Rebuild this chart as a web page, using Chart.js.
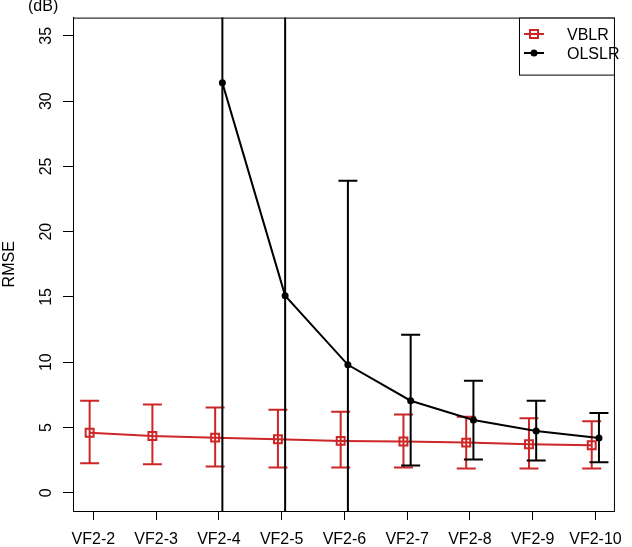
<!DOCTYPE html>
<html>
<head>
<meta charset="utf-8">
<script src="https://cdn.jsdelivr.net/npm/chart.js@4/dist/chart.umd.min.js"></script>
<style>
  html, body { margin: 0; padding: 0; background: #fff; }
  #wrap { width: 632px; height: 547px; position: relative; }
</style>
</head>
<body>
<div id="wrap"><canvas id="rmseChart"></canvas></div>
<script>
// values
const categories = ['VF2-2', 'VF2-3', 'VF2-4', 'VF2-5', 'VF2-6', 'VF2-7', 'VF2-8', 'VF2-9', 'VF2-10'];
const yTicks = [0, 5, 10, 15, 20, 25, 30, 35];

const vblrMean  = [4.6, 4.35, 4.22, 4.1, 3.97, 3.92, 3.84, 3.72, 3.64];
const vblrLow   = [2.26, 2.19, 2.01, 1.93, 1.93, 1.93, 1.86, 1.86, 1.86];
const vblrHigh  = [7.05, 6.75, 6.52, 6.36, 6.21, 6.0, 5.83, 5.7, 5.47];

const olslrMean = [null, null, 31.4, 15.1, 9.8, 7.05, 5.57, 4.73, 4.2];
const olslrLow  = [null, null, -13.6, -9.9, -4.3, 2.09, 2.54, 2.47, 2.34];
const olslrHigh = [null, null, 76.4, 40.1, 23.9, 12.1, 8.58, 7.05, 6.11];

const red = '#CD2626';
const font = "'Liberation Sans', Arial, sans-serif";

function toPoints(vals, shift) {
    const pts = [];
    vals.forEach((v, i) => { if (v !== null) pts.push({ x: i + 1 + shift, y: v }); });
    return pts;
}
function compact(vals) {
    return vals.filter(v => v !== null);
}

// vertical error bars with caps, clipped to the plot box
const errorBars = {
    id: 'errorBars',
    beforeDatasetDraw(chart, args) {
        const ds = chart.data.datasets[args.index];
        if (!ds.errLow) return;
        const { ctx, chartArea: a, scales: { x, y } } = chart;
        ctx.save();
        ctx.beginPath();
        ctx.rect(a.left, a.top, a.right - a.left, a.bottom - a.top);
        ctx.clip();
        ctx.strokeStyle = ds.borderColor;
        ctx.lineWidth = 2;
        ds.data.forEach((p, i) => {
            const px = x.getPixelForValue(p.x);
            const lo = y.getPixelForValue(ds.errLow[i]);
            const hi = y.getPixelForValue(ds.errHigh[i]);
            ctx.beginPath();
            ctx.moveTo(px, lo); ctx.lineTo(px, hi);
            ctx.moveTo(px - 9.5, lo); ctx.lineTo(px + 9.5, lo);
            ctx.moveTo(px - 9.5, hi); ctx.lineTo(px + 9.5, hi);
            ctx.stroke();
        });
        ctx.restore();
    }
};

// box, legend and unit label in R style
const frame = {
    id: 'frame',
    afterDraw(chart) {
        const { ctx, chartArea: a } = chart;
        ctx.save();
        ctx.strokeStyle = '#000';
        ctx.lineWidth = 1;
        ctx.strokeRect(a.left + 0.5, a.top + 0.5, a.right - a.left - 1, a.bottom - a.top);

        // legend
        const lx = 519.5, ly = a.top + 0.5, lw = a.right - 0.5 - lx, lh = 57;
        ctx.fillStyle = '#fff';
        ctx.fillRect(lx, ly, lw, lh);
        ctx.strokeRect(lx, ly, lw, lh);
        const rows = [
            { label: 'VBLR', color: red, y: 34, marker: 'square' },
            { label: 'OLSLR', color: '#000', y: 53, marker: 'dot' }
        ];
        rows.forEach(r => {
            ctx.strokeStyle = r.color;
            ctx.fillStyle = r.color;
            ctx.lineWidth = 2;
            ctx.beginPath();
            ctx.moveTo(524, r.y); ctx.lineTo(544, r.y);
            ctx.stroke();
            if (r.marker === 'square') {
                ctx.strokeRect(530, r.y - 4, 8, 8);
            } else {
                ctx.beginPath();
                ctx.arc(534, r.y, 3.5, 0, Math.PI * 2);
                ctx.fill();
            }
            ctx.fillStyle = '#000';
            ctx.font = '16px ' + font;
            ctx.textAlign = 'left';
            ctx.textBaseline = 'middle';
            ctx.fillText(r.label, 567, r.y + 2);
        });

        ctx.font = '16px ' + font;
        ctx.textAlign = 'left';
        ctx.textBaseline = 'middle';
        ctx.fillStyle = '#000';
        ctx.fillText('(dB)', 28, 7);
        ctx.restore();
    }
};

const ctx = document.getElementById('rmseChart').getContext('2d');
const rmseChart = new Chart(ctx, {
    type: 'line',
    data: {
        datasets: [{
            label: 'VBLR',
            data: toPoints(vblrMean, -0.06),
            errLow: vblrLow,
            errHigh: vblrHigh,
            borderColor: red,
            borderWidth: 2,
            pointStyle: 'rect',
            pointRadius: 5.6,
            pointBorderWidth: 2,
            pointBackgroundColor: 'rgba(0,0,0,0)',
            pointBorderColor: red,
            tension: 0,
            order: 1
        }, {
            label: 'OLSLR',
            data: toPoints(olslrMean, 0.055),
            errLow: compact(olslrLow),
            errHigh: compact(olslrHigh),
            borderColor: '#000',
            borderWidth: 2,
            pointStyle: 'circle',
            pointRadius: 3.5,
            pointBorderWidth: 0,
            pointBackgroundColor: '#000',
            tension: 0,
            order: 0
        }]
    },
    options: {
        responsive: true,
        maintainAspectRatio: false,
        animation: false,
        layout: { padding: { left: 0, right: 6, top: 15, bottom: 0 } },
        plugins: {
            legend: { display: false },
            tooltip: { enabled: false }
        },
        scales: {
            x: {
                type: 'linear',
                min: 0.675,
                max: 9.31,
                afterBuildTicks: scale => { scale.ticks = categories.map((c, i) => ({ value: i + 1 })); },
                afterFit: scale => { scale.height = 36; },
                grid: { display: true, drawOnChartArea: false, drawTicks: true, tickLength: 9, color: '#000' },
                border: { display: true, color: '#000', width: 1 },
                ticks: {
                    autoSkip: false,
                    maxRotation: 0,
                    padding: 10,
                    color: '#000',
                    font: { family: font, size: 16 },
                    callback: v => categories[Math.round(v) - 1]
                }
            },
            y: {
                type: 'linear',
                min: -1.4,
                max: 36.4,
                afterBuildTicks: scale => { scale.ticks = yTicks.map(v => ({ value: v })); },
                afterFit: scale => { scale.width = 73; },
                grid: { display: true, drawOnChartArea: false, drawTicks: true, tickLength: 10, color: '#000' },
                border: { display: true, color: '#000', width: 1 },
                title: {
                    display: true,
                    text: 'RMSE',
                    color: '#000',
                    padding: 0,
                    font: { family: font, size: 16 }
                },
                ticks: {
                    minRotation: 90,
                    crossAlign: 'center',
                    padding: 8,
                    color: '#000',
                    font: { family: font, size: 16 }
                }
            }
        }
    },
    plugins: [errorBars, frame]
});
</script>
</body>
</html>
